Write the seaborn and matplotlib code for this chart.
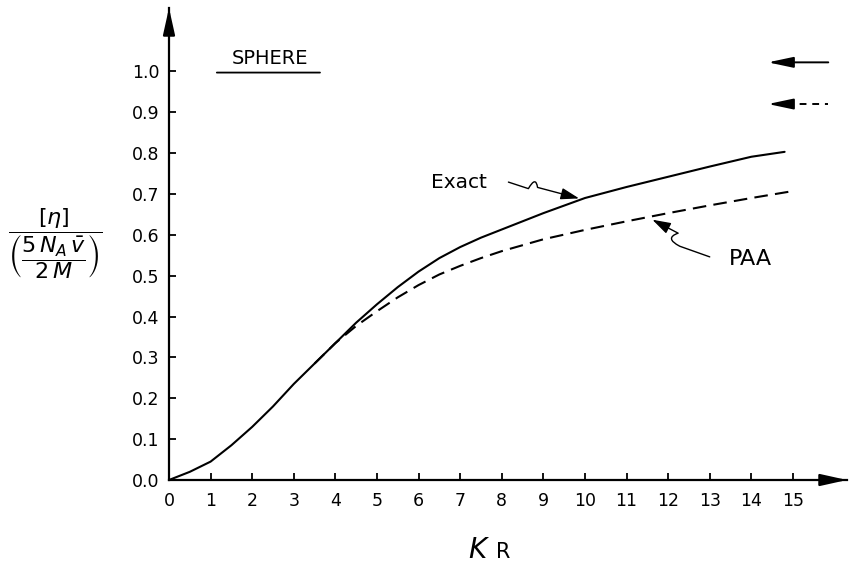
import pandas as pd
import matplotlib.pyplot as plt
import seaborn as sns
from matplotlib.path import Path
from matplotlib.patches import FancyArrowPatch


# values
kr_exact = [0, 0.5, 1, 1.5, 2, 2.5, 3, 3.5, 4, 4.5, 5, 5.5, 6, 6.5, 7, 7.5,
            8, 9, 10, 11, 12, 13, 14, 14.8]
eta_exact = [0, 0.02, 0.045, 0.085, 0.13, 0.18, 0.235, 0.285, 0.335, 0.385,
             0.43, 0.472, 0.51, 0.543, 0.57, 0.593, 0.613, 0.653, 0.69, 0.717,
             0.742, 0.767, 0.791, 0.803]

kr_paa = [3.5, 4, 4.5, 5, 5.5, 6, 6.5, 7, 7.5, 8, 9, 10, 11, 12, 13, 14, 15]
eta_paa = [0.285, 0.335, 0.377, 0.413, 0.447, 0.477, 0.503, 0.524, 0.543,
           0.56, 0.589, 0.612, 0.633, 0.653, 0.672, 0.69, 0.707]

# limiting values shown by the arrows at the right
limit_exact = 1.022
limit_paa = 0.92

x_ticks = list(range(0, 16))
y_ticks = [i / 10 for i in range(0, 11)]

df = pd.concat([
    pd.DataFrame({'kr': kr_exact, 'eta': eta_exact, 'model': 'Exact'}),
    pd.DataFrame({'kr': kr_paa, 'eta': eta_paa, 'model': 'PAA'}),
])

sns.set_style('ticks')
plt.rcParams['font.family'] = ['DejaVu Sans']
plt.rcParams['mathtext.fontset'] = 'dejavusans'
plt.rcParams['text.color'] = 'black'
plt.rcParams['axes.labelcolor'] = 'black'

fig = plt.figure(figsize=(8.49, 5.66), dpi=100)
ax = fig.add_axes([169 / 849, 86 / 566, 678 / 849, 472 / 566])

sns.lineplot(data=df, x='kr', y='eta', style='model',
             dashes={'Exact': '', 'PAA': (6.5, 3.5)},
             color='black', linewidth=1.5, legend=False, ax=ax)

ax.set_xlim(0, 16.3)
ax.set_ylim(0, 1.155)
ax.set_xticks(x_ticks)
ax.set_xticklabels([str(t) for t in x_ticks])
ax.set_yticks(y_ticks)
ax.set_yticklabels([f'{t:.1f}' for t in y_ticks])
ax.tick_params(direction='in', length=5, width=1.3, labelsize=12.5,
               colors='black', labelcolor='black')
ax.tick_params(axis='x', pad=9)
ax.tick_params(axis='y', pad=7)

for side in ['top', 'right']:
    ax.spines[side].set_visible(False)
for side in ['left', 'bottom']:
    ax.spines[side].set_linewidth(1.6)
    ax.spines[side].set_color('black')
    ax.spines[side].set_clip_on(False)

# arrow heads on the axes
head = dict(arrowstyle='-|>,head_length=0.9,head_width=0.2',
            color='black', lw=1.6, mutation_scale=18, shrinkA=0, shrinkB=0)
ax.annotate('', xy=(1, 0), xytext=(0.97, 0), xycoords='axes fraction',
            arrowprops=head, annotation_clip=False)
ax.annotate('', xy=(0, 1), xytext=(0, 0.95), xycoords='axes fraction',
            arrowprops=head, annotation_clip=False)

# limits at large kR
lim_head = dict(arrowstyle='-|>,head_length=0.85,head_width=0.18',
                color='black', lw=1.4, mutation_scale=18, shrinkA=0, shrinkB=0)
ax.annotate('', xy=(14.4, limit_exact), xytext=(15.85, limit_exact),
            arrowprops=lim_head)
ax.plot([14.85, 15.85], [limit_paa, limit_paa], color='black', lw=1.4,
        dashes=(3.5, 3))
ax.annotate('', xy=(14.4, limit_paa), xytext=(14.88, limit_paa),
            arrowprops=lim_head)

# labels with squiggly pointers
ax.text(6.97, 0.729, 'Exact', fontsize=14.5, ha='center', va='center')
ax.text(13.97, 0.540, 'PAA', fontsize=16, ha='center', va='center')

exact_path = Path([(8.16, 0.729), (8.64, 0.713), (8.82, 0.745), (8.86, 0.716),
                   (9.86, 0.689)],
                  [Path.MOVETO, Path.LINETO, Path.CURVE3, Path.CURVE3, Path.LINETO])
paa_path = Path([(13.0, 0.546), (12.28, 0.572), (11.9, 0.592), (12.24, 0.604),
                 (11.62, 0.637)],
                [Path.MOVETO, Path.LINETO, Path.CURVE3, Path.CURVE3, Path.LINETO])
for p in [exact_path, paa_path]:
    ax.add_patch(FancyArrowPatch(path=p, arrowstyle='-|>,head_length=0.7,head_width=0.22',
                                 mutation_scale=16, color='black', lw=1.0))

ax.text(2.43, 1.032, 'SPHERE', fontsize=14, ha='center', va='center')
ax.annotate('', xy=(3.63, 0.997), xytext=(1.15, 0.997),
            arrowprops=dict(arrowstyle='-', color='black', lw=1.3,
                            shrinkA=0, shrinkB=0))

# axis labels
ax.set_xlabel('')
ax.set_ylabel(r'$\dfrac{[\eta]}{\left(\dfrac{5\,N_{A}\,\bar{v}}{2\,M}\right)}$',
              rotation=0, fontsize=16, ha='center', va='center', color='black')
ax.yaxis.set_label_coords(-0.168, 0.50)

fig.text(477 / 849, 1 - 550 / 566, 'K', fontsize=20, style='italic',
         ha='center', va='center')
fig.text(503 / 849, 1 - 552 / 566, 'R', fontsize=15, ha='center', va='center')

fig.savefig('out.png', dpi=100, facecolor='white')
